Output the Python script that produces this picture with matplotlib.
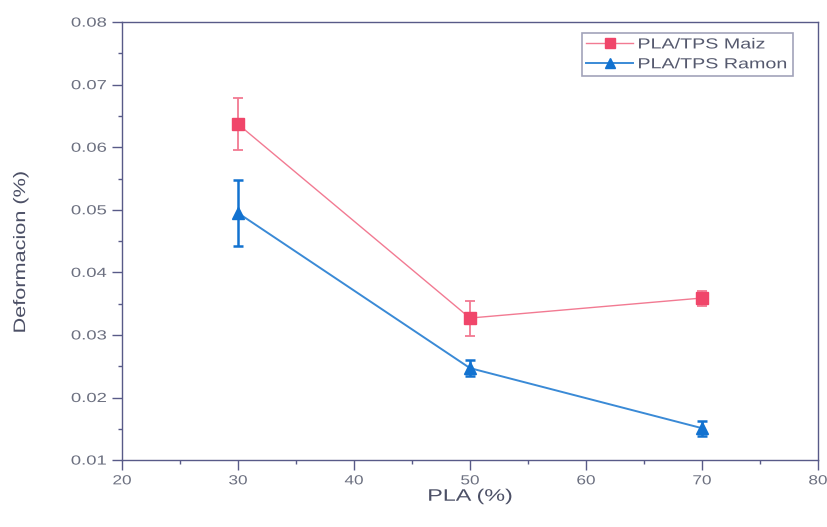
import numpy as np
import matplotlib.pyplot as plt
from matplotlib.patheffects import AbstractPathEffect
from matplotlib.transforms import Affine2D

plt.rcParams['font.family'] = ['Liberation Sans', 'DejaVu Sans']

pla = [30, 50, 70]
maiz = [0.0637, 0.0327, 0.0359]
maiz_err = [0.0041, 0.0028, 0.0012]
ramon = [0.0495, 0.0247, 0.0151]
ramon_err = [0.0053, 0.0013, 0.0012]
series_names = ['PLA/TPS Maiz', 'PLA/TPS Ramon']


class Stretch(AbstractPathEffect):
    """widen text along one screen direction about an anchor"""
    def __init__(self, s=1.4, anchor='center', axis='x'):
        super().__init__()
        self.s, self.anchor, self.axis = s, anchor, axis

    def draw_path(self, renderer, gc, tpath, affine, rgbFace=None):
        v = affine.transform(tpath.vertices)
        i = 0 if self.axis == 'x' else 1
        lo, hi = v[:, i].min(), v[:, i].max()
        c = {'left': lo, 'right': hi, 'center': (lo + hi) / 2}[self.anchor]
        if i == 0:
            t = Affine2D().translate(-c, 0).scale(self.s, 1).translate(c, 0)
        else:
            t = Affine2D().translate(0, -c).scale(1, self.s).translate(0, c)
        renderer.draw_path(gc, tpath, affine + t, rgbFace)


axis_col = '#585a88'
txt_col = '#6c7080'
lab_col = '#4c5066'
pink = '#f0466a'
pink_line = '#f27a92'
blue = '#1272d0'
blue_line = '#3a8ad6'

fig = plt.figure(figsize=(8.27, 5.27), dpi=100)
ax = fig.add_axes([0.1475, 0.127, 0.8415, 0.831])

ax.errorbar(pla, maiz, yerr=maiz_err, fmt='none', ecolor=pink_line,
            elinewidth=1.3, capsize=3.5, capthick=1.3)
ax.errorbar(pla, ramon, yerr=ramon_err, fmt='none', ecolor=blue,
            elinewidth=1.8, capsize=3.5, capthick=1.8)
ax.plot(pla, maiz, color=pink_line, lw=1.0, marker='s', ms=8,
        mfc=pink, mec=pink, label=series_names[0])
ax.plot(pla, ramon, color=blue_line, lw=1.4, marker='^', ms=9,
        mfc=blue, mec=blue, label=series_names[1])

ax.set_xlim(20, 80)
ax.set_ylim(0.01, 0.08)
ax.set_xticks(np.arange(20, 81, 10))
ax.set_xticks(np.arange(25, 80, 10), minor=True)
ax.set_yticks(np.arange(0.01, 0.0801, 0.01))
ax.set_yticks(np.arange(0.015, 0.08, 0.01), minor=True)
ax.yaxis.set_major_formatter(plt.FormatStrFormatter('%.2f'))

for s in ax.spines.values():
    s.set_color(axis_col)
    s.set_linewidth(1.0)
ax.tick_params(which='major', direction='out', length=7, width=1, color=axis_col,
               labelcolor=txt_col, labelsize=9.5, pad=4)
ax.tick_params(which='minor', direction='out', length=3, width=1, color=axis_col)

for lb in ax.get_yticklabels():
    lb.set_path_effects([Stretch(1.4, 'right')])
for lb in ax.get_xticklabels():
    lb.set_path_effects([Stretch(1.3, 'center')])

xl = ax.set_xlabel('PLA (%)', fontsize=12, color=lab_col, labelpad=1)
yl = ax.set_ylabel('Deformacion (%)', fontsize=12, color=lab_col, labelpad=38)
yl.set_y(0.475)
xl.set_path_effects([Stretch(1.4, 'center')])
yl.set_path_effects([Stretch(1.3, 'center', 'y')])

leg = ax.legend(loc='upper left', bbox_to_anchor=(0.661, 0.5, 0.303, 0.475),
                mode='expand', fontsize=10.5, frameon=True, fancybox=False,
                edgecolor='#8a8ca8', handlelength=3.2, handletextpad=0.3,
                borderpad=0.3, labelspacing=0.4, borderaxespad=0)
leg.get_frame().set_linewidth(1.2)
for t in leg.get_texts():
    t.set_color('#55596e')
    t.set_path_effects([Stretch(1.35, 'left')])
for h in leg.get_lines():
    h.set_markersize(7)

fig.savefig('out.png', dpi=100)
